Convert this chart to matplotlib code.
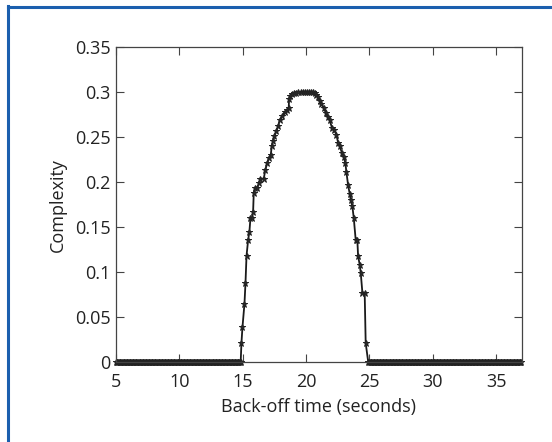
import numpy as np
import matplotlib
matplotlib.use("Agg")
import matplotlib.pyplot as plt
from matplotlib.lines import Line2D

plt.rcParams['font.family'] = ['Open Sans', 'DejaVu Sans']

# zero stretches before and after the bump
zero_left_x = np.arange(5.0, 14.9, 0.06)
zero_right_x = np.arange(24.9, 37.0, 0.06)

# the bump
bump_x = [14.90, 14.98, 15.14, 15.22, 15.30, 15.43, 15.53, 15.61, 15.74, 15.82,
          15.87, 15.98, 16.14, 16.30, 16.40, 16.66, 16.79, 16.93, 17.06, 17.21,
          17.29, 17.40, 17.50, 17.66, 17.79, 17.92, 18.13, 18.31, 18.50, 18.63,
          18.66, 18.76, 18.92, 19.08, 19.24, 19.40, 19.56, 19.72, 19.88, 20.04,
          20.20, 20.36, 20.52, 20.68, 20.81, 20.94, 21.07, 21.21, 21.39, 21.55,
          21.73, 21.86, 22.05, 22.20, 22.39, 22.52, 22.65, 22.84, 22.97, 23.10,
          23.18, 23.31, 23.44, 23.52, 23.65, 23.76, 23.91, 24.04, 24.10, 24.23,
          24.31, 24.44, 24.62, 24.70]
bump_y = [0.021, 0.0385, 0.065, 0.088, 0.118, 0.136, 0.145, 0.160, 0.160, 0.167,
          0.188, 0.194, 0.194, 0.199, 0.204, 0.204, 0.214, 0.221, 0.227, 0.230,
          0.240, 0.246, 0.251, 0.257, 0.262, 0.269, 0.274, 0.278, 0.280, 0.283,
          0.293, 0.296, 0.298, 0.299, 0.2996, 0.300, 0.300, 0.300, 0.300, 0.300,
          0.300, 0.300, 0.300, 0.2995, 0.297, 0.295, 0.290, 0.287, 0.283, 0.277,
          0.272, 0.269, 0.260, 0.258, 0.253, 0.244, 0.240, 0.232, 0.228, 0.221,
          0.211, 0.197, 0.187, 0.180, 0.173, 0.160, 0.136, 0.136, 0.118, 0.108,
          0.099, 0.077, 0.077, 0.021]

x = np.concatenate([zero_left_x, bump_x, zero_right_x])
y = np.concatenate([np.zeros(len(zero_left_x)), bump_y, np.zeros(len(zero_right_x))])

fig = plt.figure(figsize=(5.52, 4.42), dpi=100)
ax = fig.add_axes([0.210, 0.181, 0.735, 0.712])

ax.plot(x, y, color='#1a1a1a', lw=1.3, marker='*', ms=4.8,
        markerfacecolor='#2a2a2a', markeredgecolor='#222222', mew=0.7,
        clip_on=False)

ax.set_xlim(5, 37)
ax.set_ylim(0, 0.35)
ax.set_xticks([5, 10, 15, 20, 25, 30, 35])
ax.set_xticklabels(['5', '10', '15', '20', '25', '30', '35'])
ax.set_yticks([0, 0.05, 0.1, 0.15, 0.2, 0.25, 0.3, 0.35])
ax.set_yticklabels(['0', '0.05', '0.1', '0.15', '0.2', '0.25', '0.3', '0.35'])
ax.tick_params(direction='in', length=5.5, width=0.8, top=True, right=True,
               labelsize=13, colors='#444444', labelcolor='#222222', pad=4)
ax.tick_params(axis='x', pad=8)
for s in ax.spines.values():
    s.set_color('#444444')
    s.set_linewidth(0.9)

ax.set_xlabel('Back-off time (seconds)', fontsize=13, color='#222222', labelpad=5)
ax.set_ylabel('Complexity', fontsize=13, color='#222222', labelpad=6)

# blue frame lines on top and left of the figure
fig.add_artist(Line2D([7.5 / 552, 1.0], [1 - 7 / 442, 1 - 7 / 442],
                      transform=fig.transFigure, color='#1b5fae', lw=2.2))
fig.add_artist(Line2D([8 / 552, 8 / 552], [0.0, 1 - 6 / 442],
                      transform=fig.transFigure, color='#1b5fae', lw=2.2))

fig.savefig('out.png', dpi=100)
